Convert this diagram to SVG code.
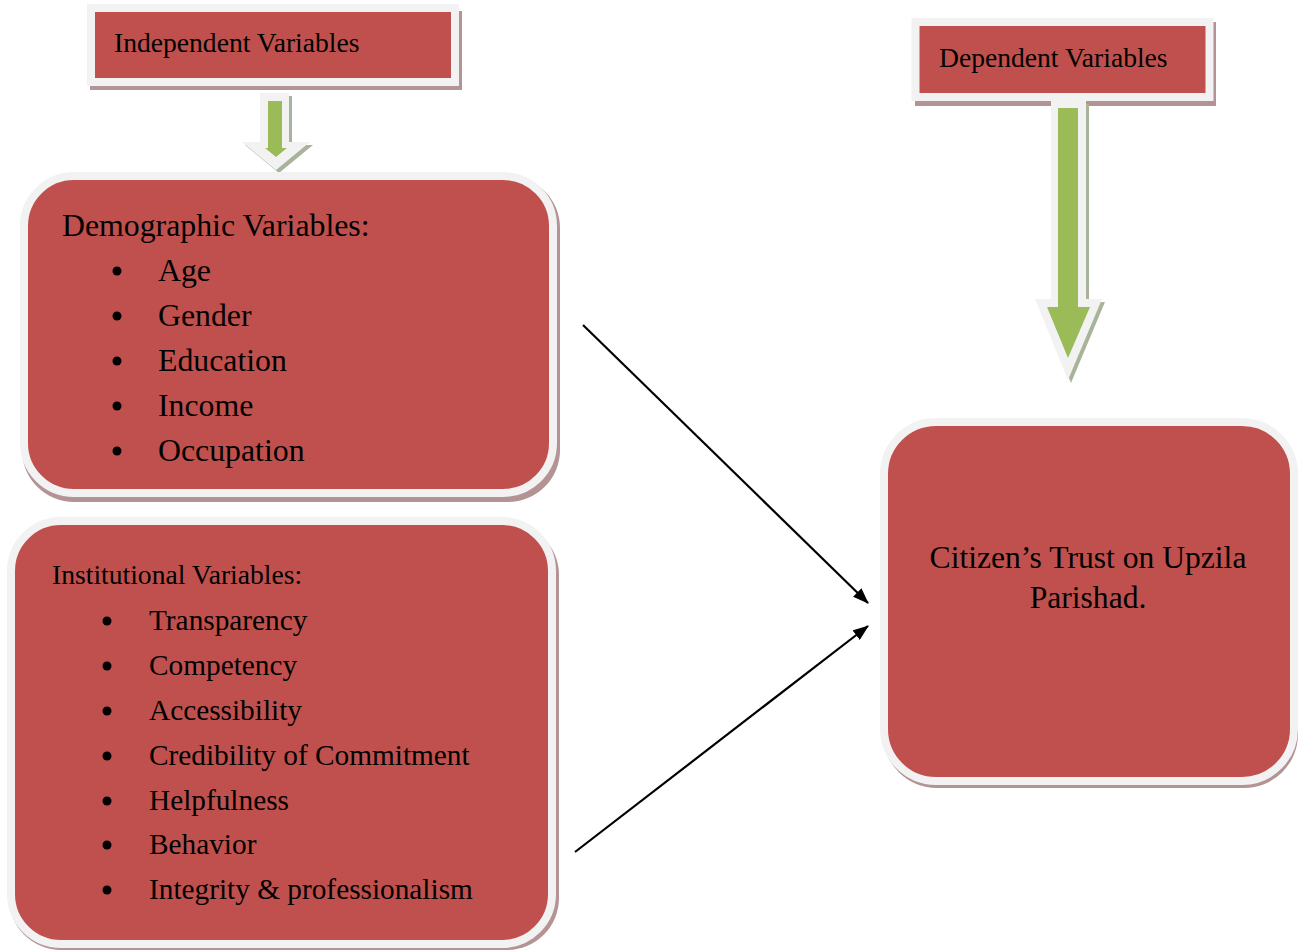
<svg xmlns="http://www.w3.org/2000/svg" width="1304" height="950" viewBox="0 0 1304 950">
<defs>
<style>
.shadow{fill:#b49394}
.box{fill:#c0504d;stroke:#f2f2f2;stroke-width:8}
.t{font-family:"Liberation Serif","Times New Roman",serif;fill:#000}
.head{font-size:27.6px}
.h2{font-size:31.8px}
.h3{font-size:27.6px}
.i3{font-size:29.3px}
.garr-out{fill:#f2f2f2}
.garr-sh{fill:#a8b49a}
.garr-in{fill:#9bbb59}
.conn{stroke:#000;stroke-width:2.2;fill:none;marker-end:url(#ah)}
</style>
<marker id="ah" viewBox="0 0 16 12" refX="15" refY="6" markerWidth="16" markerHeight="12" markerUnits="userSpaceOnUse" orient="auto">
<path d="M0,0 L16,6 L0,12 Z" fill="#000"/>
</marker>
</defs>
<rect width="1304" height="950" fill="#fff"/>

<g id="independent">
<rect class="shadow" x="90" y="11" width="372" height="79"/>
<rect class="box" x="91" y="8" width="364" height="74"/>
<text class="t head" x="114" y="52">Independent Variables</text>
</g>

<g id="independent-arrow">
<path class="garr-sh" d="M263,96 H292 V145 H313 L279,173 L245,145 H263 Z"/>
<path class="garr-out" d="M260,93 H289 V142 H310 L276,170 L242,142 H260 Z"/>
<path class="garr-in" d="M268,101 H282 V148 H287 L276,157 L265,148 H268 Z"/>
</g>

<g id="dependent">
<rect class="shadow" x="915" y="22" width="301" height="84"/>
<rect class="box" x="915.5" y="22" width="294" height="75"/>
<text class="t head" x="939" y="67">Dependent Variables</text>
</g>

<g id="dependent-arrow">
<path class="garr-sh" d="M1054,104 H1089 V302 H1105 L1071,383 L1038,302 H1054 Z"/>
<path class="garr-out" d="M1051,101 H1086 V299 H1102 L1068,380 L1035,299 H1051 Z"/>
<path class="garr-in" d="M1058,108 H1078 V307 H1090 L1068,358 L1047,307 H1058 Z"/>
</g>

<g id="demographic">
<rect class="shadow" x="22" y="176" width="538" height="326" rx="52"/>
<rect class="box" x="24" y="176" width="529" height="317" rx="50"/>
<text class="t h2" x="62" y="236">Demographic Variables:</text>
<g class="t h2">
<circle cx="117" cy="271" r="4.5"/><text x="158" y="281">Age</text>
<circle cx="117" cy="316" r="4.5"/><text x="158" y="326">Gender</text>
<circle cx="117" cy="361" r="4.5"/><text x="158" y="371">Education</text>
<circle cx="117" cy="406" r="4.5"/><text x="158" y="416">Income</text>
<circle cx="117" cy="451" r="4.5"/><text x="158" y="461">Occupation</text>
</g>
</g>

<g id="institutional">
<rect class="shadow" x="9" y="523" width="550" height="427" rx="52"/>
<rect class="box" x="11" y="521" width="541" height="423" rx="50"/>
<text class="t h3" x="52" y="584">Institutional Variables:</text>
<g class="t i3">
<circle cx="107" cy="621" r="4.5"/><text x="149" y="630">Transparency</text>
<circle cx="107" cy="666" r="4.5"/><text x="149" y="675">Competency</text>
<circle cx="107" cy="711" r="4.5"/><text x="149" y="720">Accessibility</text>
<circle cx="107" cy="756" r="4.5"/><text x="149" y="765">Credibility of Commitment</text>
<circle cx="107" cy="801" r="4.5"/><text x="149" y="810">Helpfulness</text>
<circle cx="107" cy="845" r="4.5"/><text x="149" y="854">Behavior</text>
<circle cx="107" cy="890" r="4.5"/><text x="149" y="899">Integrity &amp; professionalism</text>
</g>
</g>

<g id="citizen">
<rect class="shadow" x="883" y="425" width="415" height="363" rx="54"/>
<rect class="box" x="884" y="422" width="410" height="359" rx="52"/>
<text class="t" style="font-size:31.6px" x="1088" y="568" text-anchor="middle">Citizen’s Trust on Upzila</text>
<text class="t" style="font-size:31.6px" x="1088" y="608" text-anchor="middle">Parishad.</text>
</g>

<g id="connectors">
<line class="conn" x1="583" y1="325" x2="868" y2="603"/>
<line class="conn" x1="575" y1="852" x2="868" y2="626"/>
</g>
</svg>
